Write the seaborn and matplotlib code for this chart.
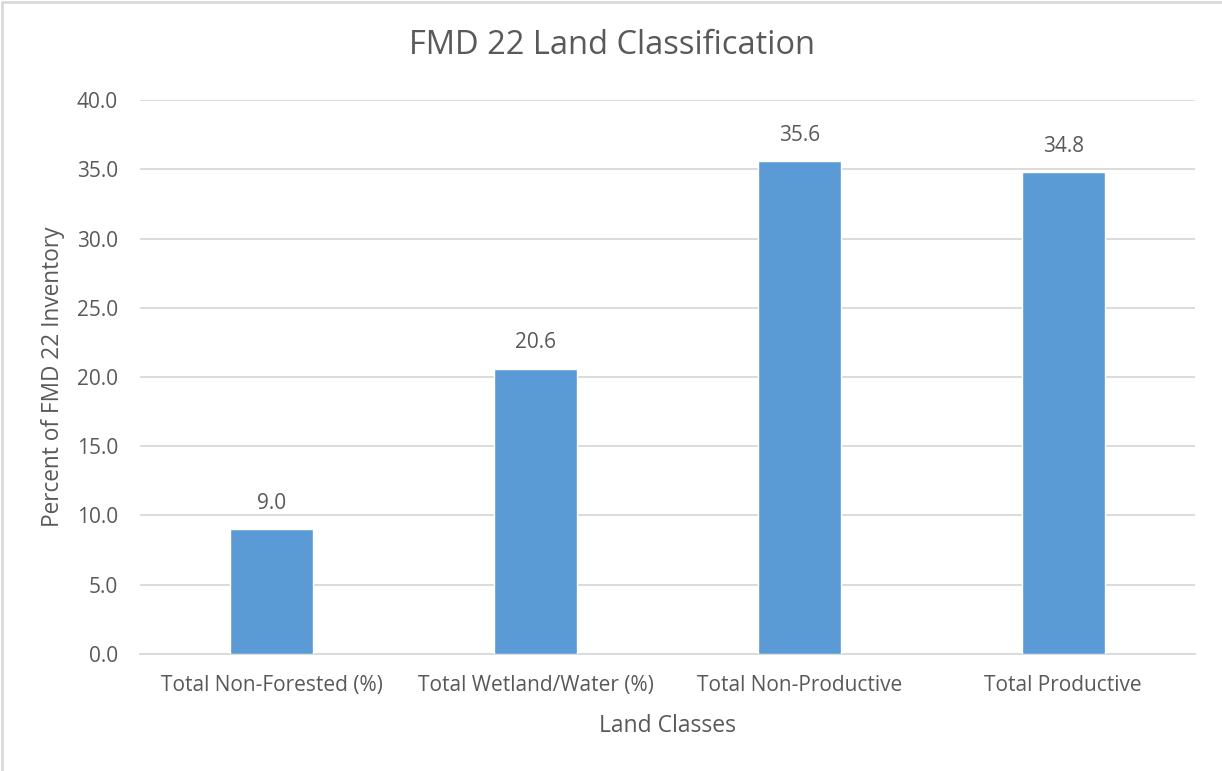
import matplotlib
matplotlib.use("Agg")
import matplotlib.pyplot as plt
from matplotlib.lines import Line2D
import pandas as pd
import seaborn as sns

CATEGORIES = [
    "Total Non-Forested (%)",
    "Total Wetland/Water (%)",
    "Total Non-Productive",
    "Total Productive",
]
PERCENTS = [9.0, 20.6, 35.6, 34.8]
Y_TICKS = [0, 5, 10, 15, 20, 25, 30, 35, 40]

BAR_COLOR = "#5B9BD5"
TEXT_COLOR = "#595959"
GRID_COLOR = "#D9D9D9"

sns.set_theme(style="white")
plt.rcParams["font.family"] = ["Open Sans", "DejaVu Sans"]

df = pd.DataFrame({"Land Classes": CATEGORIES, "Percent": PERCENTS})

fig = plt.figure(figsize=(12.22, 7.71), dpi=100)
ax = fig.add_axes([0.1146, 0.152, 0.8634, 0.718])

sns.barplot(data=df, x="Land Classes", y="Percent", color=BAR_COLOR,
            saturation=1, width=0.315, ax=ax, zorder=3)

ax.set_ylim(0, 40)
ax.set_xlim(-0.5, 3.5)
ax.set_yticks(Y_TICKS)
ax.set_yticklabels([f"{v:.1f}" for v in Y_TICKS])
ax.yaxis.grid(True, color=GRID_COLOR, linewidth=1.3, zorder=0)
ax.set_axisbelow(True)
for side in ["top", "right", "left"]:
    ax.spines[side].set_visible(False)
ax.spines["bottom"].set_color(GRID_COLOR)
ax.spines["bottom"].set_linewidth(1.3)
ax.tick_params(axis="both", length=0, labelsize=15, colors=TEXT_COLOR)
ax.tick_params(axis="y", pad=16)
ax.tick_params(axis="x", pad=15)

for container in ax.containers:
    ax.bar_label(container, fmt="%.1f", padding=11, fontsize=15, color=TEXT_COLOR)

ax.set_xlabel("Land Classes", fontsize=16.5, color=TEXT_COLOR, labelpad=13)
ax.set_ylabel("Percent of FMD 22 Inventory", fontsize=16.3, color=TEXT_COLOR, labelpad=8)
fig.text(0.501, 0.941, "FMD 22 Land Classification", ha="center", va="center",
         fontsize=23.5, color=TEXT_COLOR)

# light chart-area border (left and top edges visible)
fig.add_artist(Line2D([0.002, 0.002], [0, 0.998], transform=fig.transFigure,
                      color="#D9D9D9", linewidth=2))
fig.add_artist(Line2D([0.002, 1], [0.998, 0.998], transform=fig.transFigure,
                      color="#D9D9D9", linewidth=2))

fig.savefig("out.png", dpi=100)
